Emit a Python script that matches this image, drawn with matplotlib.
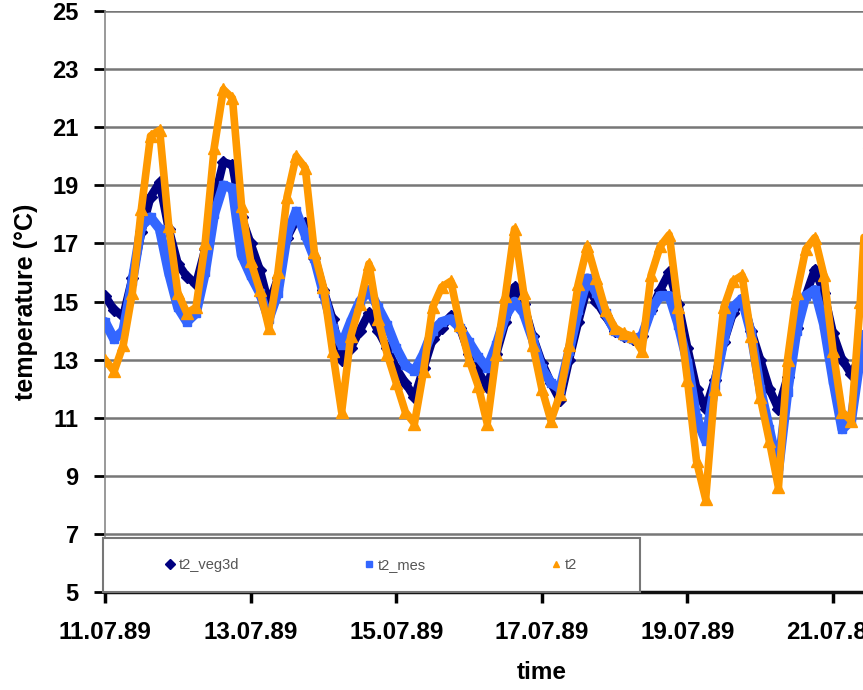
# Temperature comparison at 2 m, 11.07.89 - 21.07.89

import pandas as pd
import matplotlib.pyplot as plt
import matplotlib.dates as mdates
from matplotlib.patches import Rectangle

plt.rcParams["font.family"] = ["Liberation Sans", "DejaVu Sans"]

# 3-hourly samples
times = pd.date_range("1989-07-11 00:00", periods=85, freq="3h")

t2_veg3d = [15.2, 14.7, 14.5, 15.8, 17.4, 18.6, 19.1, 17.5, 16.3, 15.85, 15.6, 16.8,
            18.5, 19.8, 19.7, 17.9, 17.0, 16.1, 14.9, 15.8, 17.2, 17.8, 17.7, 16.5,
            15.4, 14.4, 13.0, 13.4, 14.0, 14.6, 14.0, 13.4, 12.7, 12.2, 11.7, 12.7,
            13.7, 14.1, 14.5, 14.1, 13.2, 12.6, 12.05, 13.2, 14.3, 15.5, 14.9, 13.8,
            12.9, 12.2, 11.6, 13.0, 14.3, 15.5, 15.0, 14.5, 14.0, 13.8, 13.7, 13.8,
            14.7, 15.4, 16.0, 14.9, 13.4, 12.0, 11.3, 12.3, 13.6, 14.6, 15.05, 14.0,
            13.0, 12.0, 11.3, 12.4, 14.1, 15.2, 16.1, 15.3, 13.9, 13.0, 12.5, 13.1,
            14.6]

t2_mes = [14.3, 13.7, 14.0, 15.7, 17.6, 17.9, 17.5, 16.0, 14.8, 14.3, 14.6, 16.0,
          18.0, 19.0, 18.9, 16.6, 15.9, 15.3, 14.4, 15.3, 17.3, 18.1, 17.3, 16.5,
          15.3, 14.1, 13.5, 14.3, 15.0, 15.4, 14.8, 14.2, 13.4, 12.8, 12.6, 13.2,
          14.0, 14.3, 14.4, 14.1, 13.6, 13.1, 12.7, 13.5, 14.5, 15.0, 14.6, 13.7,
          12.7, 12.2, 12.0, 13.3, 14.7, 15.8, 15.3, 14.6, 14.0, 13.8, 13.7, 13.8,
          14.7, 15.2, 15.2, 14.2, 12.9, 11.0, 10.2, 12.1, 13.7, 14.8, 15.1, 13.9,
          12.0, 10.6, 9.2, 11.9, 14.0, 15.2, 15.4, 14.2, 12.3, 10.6, 10.9, 13.1,
          15.0]

t2 = [13.0, 12.6, 13.5, 15.3, 18.2, 20.7, 20.9, 17.6, 15.3, 14.6, 14.8, 17.0,
      20.3, 22.3, 22.0, 18.3, 16.4, 15.4, 14.1, 16.0, 18.6, 20.0, 19.6, 16.7,
      15.5, 13.3, 11.2, 13.8, 14.9, 16.3, 14.4, 13.2, 12.2, 11.2, 10.8, 12.6,
      14.8, 15.5, 15.7, 14.2, 13.0, 12.1, 10.8, 13.2, 15.2, 17.5, 15.3, 13.5,
      12.0, 10.9, 11.8, 13.5, 15.6, 16.9, 15.8, 14.7, 14.1, 13.9, 13.8, 13.3,
      15.9, 16.9, 17.3, 14.8, 12.3, 9.5, 8.2, 12.0, 14.8, 15.7, 15.9, 13.8,
      11.7, 10.2, 8.6, 13.0, 15.3, 16.8, 17.2, 15.9, 13.3, 11.2, 10.9, 15.0,
      20.5]

series = [
    ("t2_veg3d", t2_veg3d, "#000080", "D", 6.0, 6),
    ("t2_mes", t2_mes, "#3366FF", "s", 7.0, 6),
    ("t2", t2, "#FF9900", "^", 5.5, 8),
]

fig = plt.figure(figsize=(8.63, 6.9), dpi=100)
# axis runs past the right edge of the picture, like the original
ax = fig.add_axes([0.1217, 0.1420, 1.0123, 0.8420])

for name, vals, col, mk, lw, ms in series:
    ax.plot(times, vals, color=col, linewidth=lw, solid_joinstyle="round",
            solid_capstyle="round", zorder=3)
    ax.plot(times, vals, linestyle="none", marker=mk, markersize=ms, color=col,
            zorder=3)
    # marker-only handle for the legend
    ax.plot([], [], linestyle="none", marker=mk, markersize=5, color=col, label=name)

ax.set_xlim(pd.Timestamp("1989-07-11"), pd.Timestamp("1989-07-23"))
ax.set_ylim(5, 25)
ax.set_yticks(range(5, 26, 2))
ax.xaxis.set_major_locator(mdates.DayLocator(interval=2))
ax.xaxis.set_major_formatter(mdates.DateFormatter("%d.%m.%y"))

ax.grid(axis="y", color="#777777", linewidth=1.8, zorder=1)
ax.set_axisbelow(True)
for s in ["top", "right"]:
    ax.spines[s].set_visible(False)
ax.spines["left"].set_color("#888888")
ax.spines["left"].set_linewidth(1.2)
ax.spines["bottom"].set_color("#111111")
ax.spines["bottom"].set_linewidth(2.5)

ax.tick_params(axis="y", direction="out", length=8, width=2, pad=11,
               labelsize=17, colors="black")
ax.tick_params(axis="x", direction="out", length=8, width=2.5, pad=13,
               labelsize=17.5)
for lbl in ax.get_xticklabels() + ax.get_yticklabels():
    lbl.set_fontweight("bold")

ax.set_ylabel("temperature (°C)", fontsize=18, fontweight="bold", labelpad=10)
ax.set_xlabel("time", fontsize=17.5, fontweight="bold", labelpad=12)

# legend box in the lower left of the plot
ax.add_patch(Rectangle((-0.002, 0.0), 0.6145, 0.093, transform=ax.transAxes,
                       facecolor="white", edgecolor="#777777", linewidth=1.5,
                       zorder=4, clip_on=False))
leg = ax.legend(loc="center", bbox_to_anchor=(0.305, 0.047), ncol=3, frameon=False,
                fontsize=10.5, handlelength=0.6, handletextpad=0.3,
                columnspacing=8.6)
leg.set_zorder(5)
for txt in leg.get_texts():
    txt.set_color("#555555")

plt.savefig("out.png", dpi=100)
